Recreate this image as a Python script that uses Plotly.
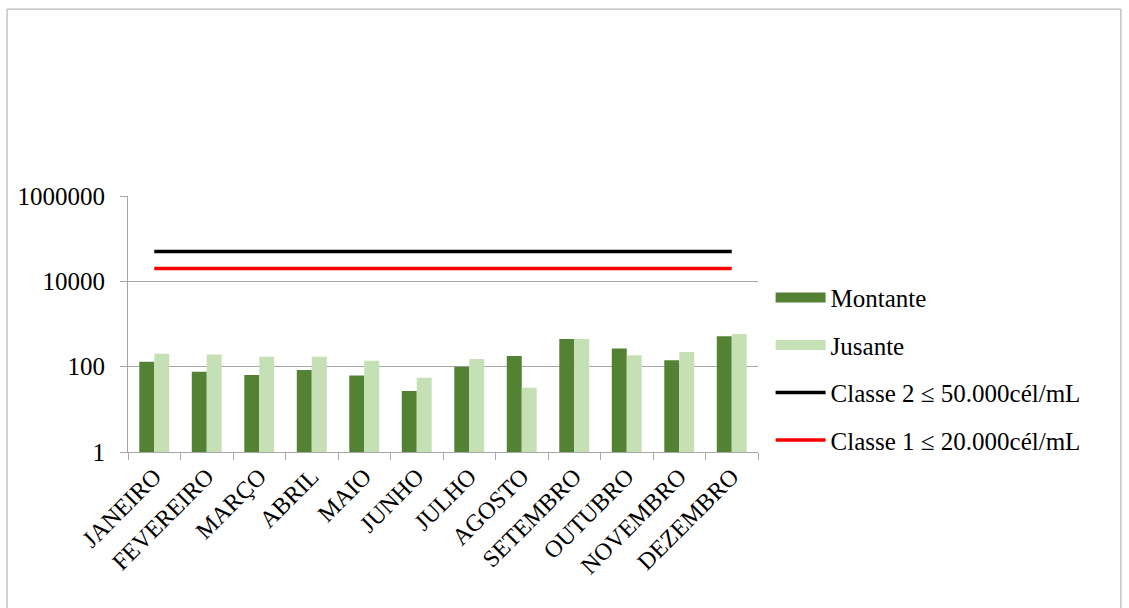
import plotly.graph_objects as go

# Monthly cyanobacteria densities (cél/mL), log scale
meses = ["JANEIRO", "FEVEREIRO", "MARÇO", "ABRIL", "MAIO", "JUNHO",
         "JULHO", "AGOSTO", "SETEMBRO", "OUTUBRO", "NOVEMBRO", "DEZEMBRO"]
montante = [130, 76, 64, 83, 62, 27, 99, 179, 447, 265, 142, 517]
jusante = [202, 192, 170, 170, 137, 55, 152, 32, 447, 186, 222, 585]
classe2_limite = 50000
classe1_limite = 20000
y_ticks = [1, 100, 10000, 1000000]

FONT = "Liberation Serif, Times New Roman, serif"
GRID = "#a6a6a6"
VERDE_ESCURO = "#548235"
VERDE_CLARO = "#C5E0B4"

fig = go.Figure()
fig.add_trace(go.Bar(x=meses, y=montante, name="Montante",
                     marker=dict(color=VERDE_ESCURO, line=dict(width=0)),
                     showlegend=False))
fig.add_trace(go.Bar(x=meses, y=jusante, name="Jusante",
                     marker=dict(color=VERDE_CLARO, line=dict(width=0)),
                     showlegend=False))
# legend entries for the bars drawn as wide swatches
fig.add_trace(go.Scatter(x=[meses[0]], y=[None], mode="lines", name="Montante",
                         line=dict(color=VERDE_ESCURO, width=13), legendgroup="a"))
fig.add_trace(go.Scatter(x=[meses[0]], y=[None], mode="lines", name="Jusante",
                         line=dict(color=VERDE_CLARO, width=13), legendgroup="b"))
fig.add_trace(go.Scatter(x=meses, y=[classe2_limite] * len(meses), mode="lines",
                         name="Classe 2 ≤ 50.000cél/mL",
                         line=dict(color="black", width=3.5), legendgroup="c"))
fig.add_trace(go.Scatter(x=meses, y=[classe1_limite] * len(meses), mode="lines",
                         name="Classe 1 ≤ 20.000cél/mL",
                         line=dict(color="red", width=3.5), legendgroup="d"))

fig.update_layout(
    width=1129, height=608,
    margin=dict(l=128, r=371, t=196, b=156),
    paper_bgcolor="white", plot_bgcolor="white",
    font=dict(family=FONT, size=25, color="black"),
    barmode="group", bargap=0.43, bargroupgap=0,
    showlegend=True,
    legend=dict(x=1.02, y=0.325, xanchor="left", yanchor="middle",
                font=dict(family=FONT, size=25, color="black"),
                tracegroupgap=12, itemwidth=50, bgcolor="rgba(0,0,0,0)"),
    xaxis=dict(type="category", tickangle=-45, tickson="boundaries",
               ticks="outside", ticklen=7, tickcolor=GRID,
               showline=True, linecolor=GRID, linewidth=1,
               showgrid=False, tickfont=dict(size=24)),
    yaxis=dict(type="log", range=[0, 6], tickvals=y_ticks,
               ticktext=[str(v) for v in y_ticks],
               ticks="outside", ticklen=7, tickcolor=GRID,
               ticklabelstandoff=10,
               showline=True, linecolor=GRID, linewidth=1,
               showgrid=True, gridcolor=GRID, gridwidth=1,
               zeroline=False, tickfont=dict(size=25)),
    shapes=[dict(type="rect", xref="paper", yref="paper",
                 x0=-0.192, x1=1.576, y0=-0.8, y1=1.73,
                 line=dict(color="#a6a6a6", width=1), layer="below")],
)

fig.write_html("out.html")
